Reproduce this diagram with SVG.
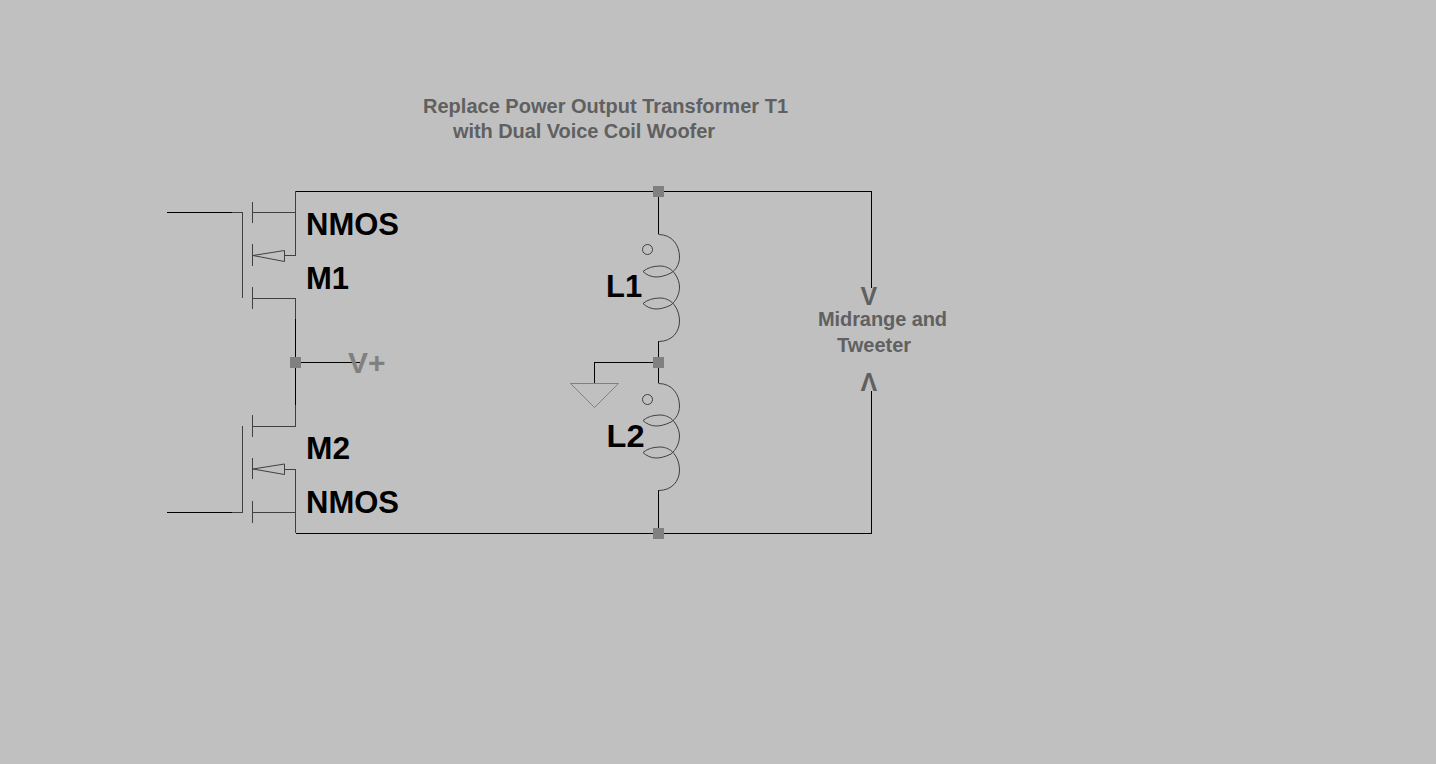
<svg xmlns="http://www.w3.org/2000/svg" width="1436" height="764" viewBox="0 0 1436 764">
<style>
.w{fill:none;stroke:#000;stroke-width:1;shape-rendering:crispEdges}
.d{fill:none;stroke:#404040;stroke-width:1;shape-rendering:crispEdges}
.c{fill:none;stroke:#404040;stroke-width:1}
.g{fill:none;stroke:#808080;stroke-width:1}
.j{fill:#808080;shape-rendering:crispEdges}
text{font-family:"Liberation Sans",Arial,sans-serif;font-weight:bold}
.big{font-size:31px;fill:#000}
.note{font-size:20px;fill:#606060}
.arr{font-size:25px;fill:#606060}
</style>
<defs>
<path id="coil" class="c" d="M658.500 234.500C672 234.500 679.500 245 679.500 257C679.500 264 676 270 671 273C665 276 660 277 656 277C651 277 646 274.500 643 271.500C647 268 653 266 660 266C666 266 672 269 675 274C678 278 679.500 283 679.500 287C679.500 294 676 301 671 305C665 308 660 309 656 309C651 309 646 306.500 643 303.500C647 300 653 298 660 298C666 298 672 301 675 306C678 310 679.500 316 679.500 321C679.500 332 672 341.500 658.500 341.500"/>
</defs>
<rect x="0" y="0" width="1436" height="764" fill="#c0c0c0"/>
<g id="connectors">
<path class="w" d="M295.500 191.500H871.500V288M295.500 533.500H871.500V391M658.500 191.500V234M658.500 341V362.500V383M658.500 490V533.500M295.500 319V405M295.500 362.500H360M594.500 383V362.500H658.500M167 212.500H232M167 512.500H232"/>
</g>
<g id="M1">
<path class="d" d="M232 212.500H242.500V298M252.500 202V223M252.500 244V266M252.500 287V309M252.500 212.500H295.500M295.500 191V255.500H284M252.500 298.500H295.500V319"/>
<path class="c" d="M253 255.500L284.500 250.500V261.500Z"/>
<text class="big" x="306" y="234.500">NMOS</text>
<text class="big" x="306" y="288.500">M1</text>
</g>
<g id="M2">
<path class="d" d="M232 512.500H242.500V426M252.500 415V437M252.500 458V479M252.500 501V523M252.500 426.500H295.500V405M284 469.500H295.500V533M252.500 512.500H295.500"/>
<path class="c" d="M253 469L284.500 464V474.500Z"/>
<text class="big" x="306" y="458.500" textLength="44" lengthAdjust="spacingAndGlyphs">M2</text>
<text class="big" x="306" y="512.500">NMOS</text>
</g>
<g id="L1">
<use href="#coil"/>
<circle class="c" cx="647.500" cy="249.500" r="5"/>
<text class="big" x="606" y="296.500">L1</text>
</g>
<g id="L2">
<use href="#coil" y="149"/>
<circle class="c" cx="647.500" cy="399.500" r="5"/>
<text class="big" x="606.500" y="446.500" textLength="38" lengthAdjust="spacingAndGlyphs">L2</text>
</g>
<g id="ground"><path class="g" d="M570.500 383.500H618.500L594.500 407.500Z"/></g>
<g id="j1"><rect class="j" x="653" y="186" width="11" height="11"/></g>
<g id="j2"><rect class="j" x="290" y="357" width="11" height="11"/></g>
<g id="j3"><rect class="j" x="653" y="357" width="11" height="11"/></g>
<g id="j4"><rect class="j" x="653" y="528" width="11" height="11"/></g>
<g id="vplus"><text x="348" y="373" font-size="30" fill="#808080">V+</text></g>
<g id="title">
<text class="note" x="423" y="113" textLength="365">Replace Power Output Transformer T1</text>
<text class="note" x="453" y="138" textLength="262">with Dual Voice Coil Woofer</text>
</g>
<g id="speaker">
<text class="note" x="818" y="326" textLength="129">Midrange and</text>
<text class="note" x="837" y="352">Tweeter</text>
<text class="arr" x="860.500" y="305">V</text>
<text class="arr" x="860.500" y="391">Λ</text>
</g>
</svg>
